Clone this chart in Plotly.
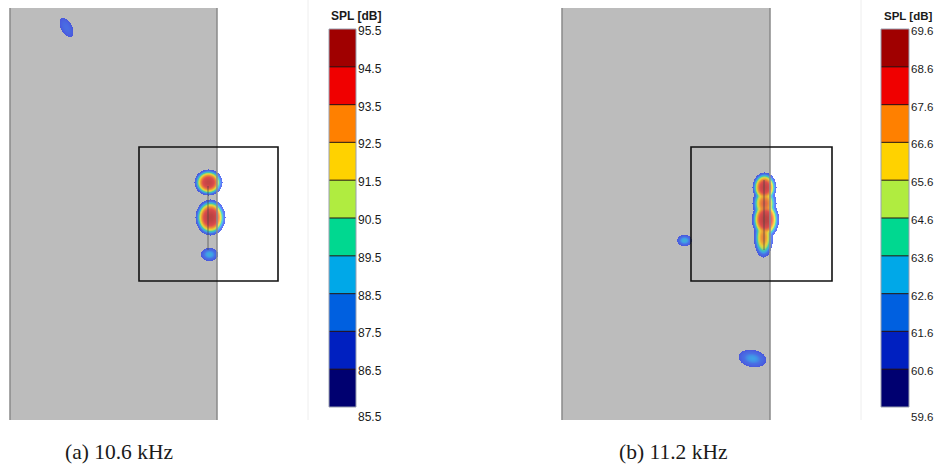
import numpy as np
import plotly.graph_objects as go

# ---------------- data ----------------
BAND_COLORS = ['#000070', '#0020c0', '#0060e0', '#00a8e8', '#00d890',
               '#b0ec40', '#ffd200', '#ff8000', '#f00000', '#a00000']
LEFT_LEVELS = [85.5, 86.5, 87.5, 88.5, 89.5, 90.5, 91.5, 92.5, 93.5, 94.5, 95.5]
RIGHT_LEVELS = [59.6, 60.6, 61.6, 62.6, 63.6, 64.6, 65.6, 66.6, 67.6, 68.6, 69.6]
LEFT_TICKTEXT = ['85.5', '86.5', '87.5', '88.5', '89.5', '90.5', '91.5', '92.5', '93.5', '94.5', '95.5']
RIGHT_TICKTEXT = ['59.6', '60.6', '61.6', '62.6', '63.6', '64.6', '65.6', '66.6', '67.6', '68.6', '69.6']
CBAR_TITLE = 'SPL [dB]'
CAPTIONS = ['(a) 10.6 kHz', '(b) 11.2 kHz']

# source spots (pixel position, peak level, outline radii, tilt)
LEFT_SRC_X = [66, 208, 210, 209]
LEFT_SRC_Y = [27, 182, 217, 254]
LEFT_SRC_PEAK = [87.3, 95.0, 95.5, 88.8]
LEFT_SRC_RX = [5.5, 14, 15, 8.5]
LEFT_SRC_RY = [10.5, 13, 18, 6.5]
LEFT_SRC_ANG = [-28, 0, 0, 0]

RIGHT_SRC_X = [764, 764, 765, 763, 684, 752]
RIGHT_SRC_Y = [187, 203, 219, 237, 240, 358]
RIGHT_SRC_PEAK = [69.0, 67.2, 69.6, 66.5, 63.0, 62.6]
RIGHT_SRC_RX = [12, 12, 13.5, 9.5, 7.5, 14]
RIGHT_SRC_RY = [15, 16, 19, 20, 5.5, 8.5]
RIGHT_SRC_ANG = [0, 0, 0, 0, 0, 10]

W, H = 934, 465


def spl_map(x0, x1, y0, y1, xs, ys, peaks, rxs, rys, angs, floor, T=0.7):
    gx = np.arange(x0, x1 + 1)
    gy = np.arange(y0, y1 + 1)
    X, Y = np.meshgrid(gx, gy)
    layers = []
    for x, y, p, rx, ry, a in zip(xs, ys, peaks, rxs, rys, angs):
        t = np.deg2rad(a)
        dx, dy = X - x, Y - y
        u = dx * np.cos(t) + dy * np.sin(t)
        v = -dx * np.sin(t) + dy * np.cos(t)
        d2 = (u / rx) ** 2 + (v / ry) ** 2
        layers.append(p - (p - floor) * d2)
    S = np.stack(layers)
    m = S.max(axis=0)
    L = m + T * np.log(np.exp((S - m) / T).sum(axis=0)) - 0.0
    # keep the outline defined by the spots themselves
    L = np.where(m >= floor, np.maximum(L, floor), m)
    z = [[(round(float(val), 2) if val >= floor else None) for val in row] for row in L]
    return gx.tolist(), gy.tolist(), z


MAP_SCALE = [[0.0, 'rgb(25,45,235)'], [0.2, 'rgb(25,80,245)'], [0.3, 'rgb(10,150,250)'],
             [0.4, 'rgb(20,205,160)'], [0.48, 'rgb(170,230,60)'], [0.56, 'rgb(255,215,0)'],
             [0.66, 'rgb(255,130,0)'], [0.8, 'rgb(235,30,30)'], [1.0, 'rgb(185,15,15)']]

fig = go.Figure()

panels = [
    dict(gray=(10, 217), box=(139, 278, 147, 281), cbx=(329, 356), levels=LEFT_LEVELS,
         ticktext=LEFT_TICKTEXT, src=(LEFT_SRC_X, LEFT_SRC_Y, LEFT_SRC_PEAK, LEFT_SRC_RX, LEFT_SRC_RY, LEFT_SRC_ANG),
         grid=(40, 240, 5, 270), line=(208, 186, 250), edge=308, cap_x=65, ax='2',
         tfs=12, title_x=331),
    dict(gray=(562, 770), box=(691, 832, 147, 281), cbx=(881, 909), levels=RIGHT_LEVELS,
         ticktext=RIGHT_TICKTEXT, src=(RIGHT_SRC_X, RIGHT_SRC_Y, RIGHT_SRC_PEAK, RIGHT_SRC_RX, RIGHT_SRC_RY, RIGHT_SRC_ANG),
         grid=(660, 800, 150, 380), line=(764, 180, 250), edge=861, cap_x=619, ax='3',
         tfs=11.5, title_x=884),
]

shapes = []
annotations = []
CB_TOP, CB_BOT = 29, 407
layout_axes = {}

for i, P in enumerate(panels):
    floor = P['levels'][0]
    top = P['levels'][-1]
    gx, gy, z = spl_map(*P['grid'], *P['src'], floor)
    fig.add_trace(go.Heatmap(x=gx, y=gy, z=z, zmin=floor, zmax=top, colorscale=MAP_SCALE,
                             showscale=False, opacity=0.7, hoverinfo='skip',
                             xaxis='x', yaxis='y'))
    g0, g1 = P['gray']
    shapes.append(dict(type='rect', xref='x', yref='y', x0=g0, x1=g1, y0=8, y1=420,
                       fillcolor='#bcbcbc', line=dict(width=0), layer='below'))
    for gxv in (g0, g1):
        shapes.append(dict(type='line', xref='x', yref='y', x0=gxv, x1=gxv, y0=8, y1=420,
                           line=dict(color='#8a8a8a', width=1.5), layer='above'))
    lx, ly0, ly1 = P['line']
    shapes.append(dict(type='line', xref='x', yref='y', x0=lx, x1=lx, y0=ly0, y1=ly1,
                       line=dict(color='rgba(70,70,70,0.7)', width=1), layer='above'))
    bx0, bx1, by0, by1 = P['box']
    shapes.append(dict(type='rect', xref='x', yref='y', x0=bx0, x1=bx1, y0=by0, y1=by1,
                       line=dict(color='#111111', width=1.6), layer='above'))
    e = P['edge']
    shapes.append(dict(type='line', xref='x', yref='y', x0=e, x1=e, y0=0, y1=420,
                       line=dict(color='#eeeeee', width=1), layer='below'))

    # colour bar as its own small subplot
    ax = P['ax']
    lv = P['levels']
    centers = [(lv[k] + lv[k + 1]) / 2 for k in range(len(lv) - 1)]
    fig.add_trace(go.Heatmap(x=[0], y=centers, z=[[k] for k in range(len(centers))],
                             zmin=0, zmax=len(centers) - 1,
                             colorscale=[[k / (len(BAND_COLORS) - 1), c] for k, c in enumerate(BAND_COLORS)],
                             showscale=False, hoverinfo='skip', xaxis='x' + ax, yaxis='y' + ax))
    cx0, cx1 = P['cbx']
    layout_axes['xaxis' + ax] = dict(domain=[cx0 / W, cx1 / W], range=[-0.5, 0.5], visible=False,
                                     anchor='y' + ax)
    layout_axes['yaxis' + ax] = dict(domain=[1 - CB_BOT / H, 1 - CB_TOP / H], range=[lv[0], lv[-1]],
                                     visible=False, anchor='x' + ax)
    for b in lv[1:-1]:
        shapes.append(dict(type='line', xref='x' + ax + ' domain', yref='y' + ax, x0=0, x1=1, y0=b, y1=b,
                           line=dict(color='rgba(40,20,20,0.85)', width=1.2), layer='above'))
    shapes.append(dict(type='rect', xref='x' + ax + ' domain', yref='y' + ax + ' domain', x0=0, x1=1, y0=0, y1=1,
                       line=dict(color='#9aa0b0', width=1), layer='above'))
    for k, (b, t) in enumerate(zip(lv, P['ticktext'])):
        annotations.append(dict(x=(cx1 + 1) / W, xref='paper', y=b, yref='y' + ax, text=t,
                                showarrow=False, xanchor='left', yanchor='middle',
                                yshift=(-10 if k == 0 else -2), xshift=-1,
                                font=dict(family='Arial, Liberation Sans', size=P['tfs'], color='#1a1a1a')))
    annotations.append(dict(x=P['title_x'] / W, xref='paper', y=1 - 16 / H, yref='paper',
                            text='<b>' + CBAR_TITLE + '</b>', showarrow=False, xanchor='left',
                            xshift=-2, yanchor='middle',
                            font=dict(family='Arial, Liberation Sans', size=P['tfs'], color='#1a1a1a')))
    annotations.append(dict(x=P['cap_x'] / W, xref='paper', y=1 - 452 / H, yref='paper',
                            text=CAPTIONS[i], showarrow=False, xanchor='left', yanchor='middle',
                            xshift=-2,
                            font=dict(family='Liberation Serif, serif', size=21.5, color='#1a1a1a')))

fig.update_layout(
    width=W, height=H, margin=dict(l=0, r=0, t=0, b=0),
    paper_bgcolor='white', plot_bgcolor='rgba(0,0,0,0)',
    xaxis=dict(domain=[0, 1], range=[0, W], visible=False, anchor='y'),
    yaxis=dict(domain=[0, 1], range=[H, 0], visible=False, anchor='x'),
    shapes=shapes, annotations=annotations, showlegend=False,
    **layout_axes,
)

fig.write_html('out.html', post_script="document.body.style.margin='0';")
